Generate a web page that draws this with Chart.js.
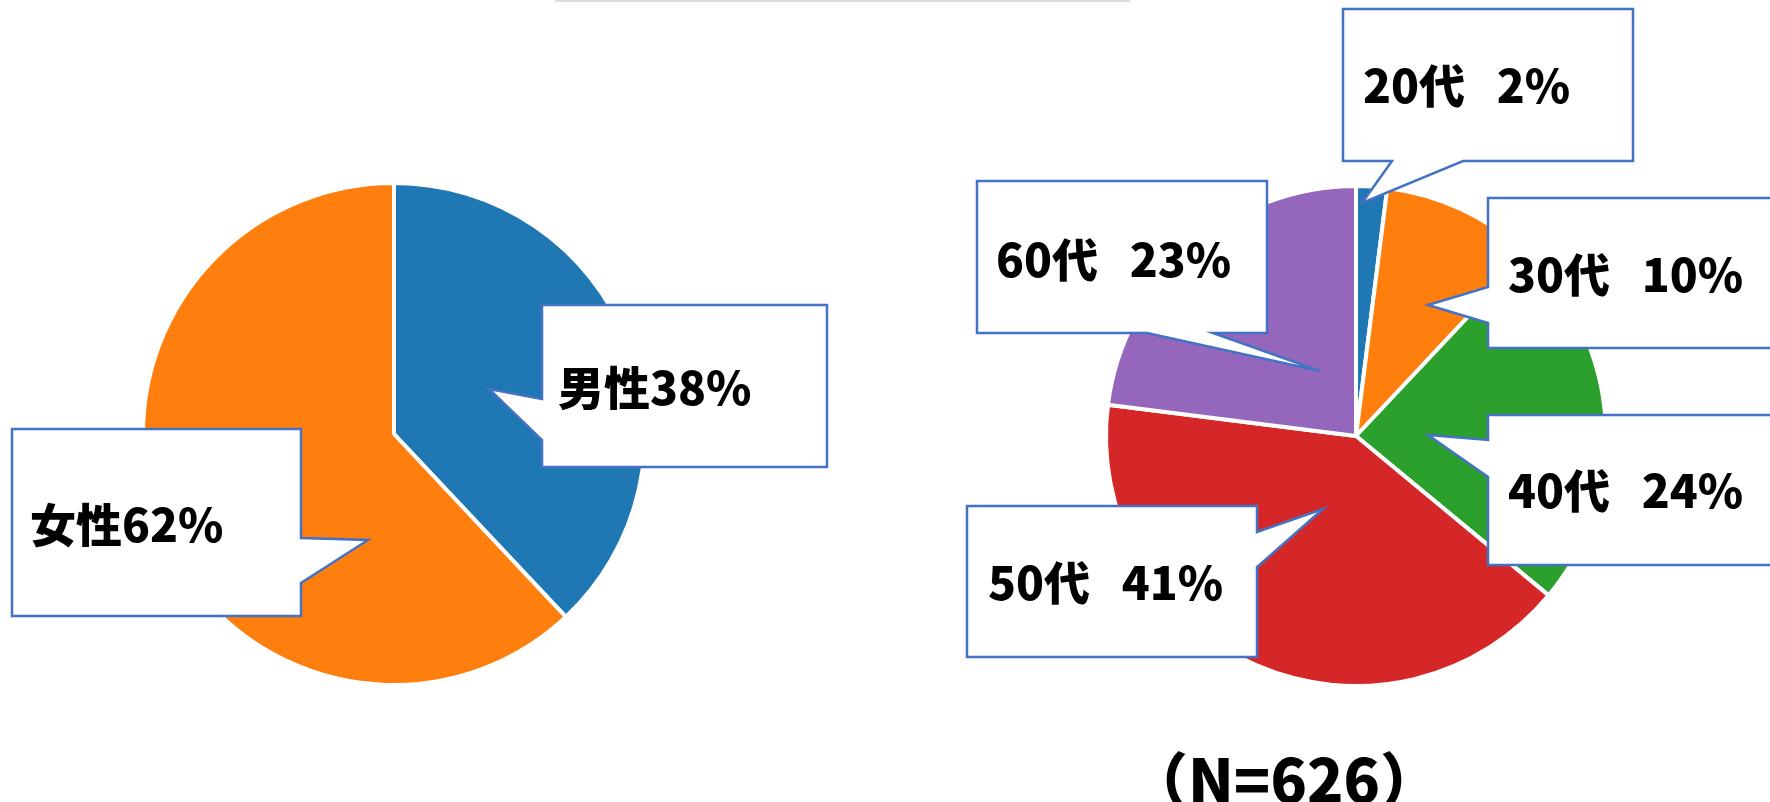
<!DOCTYPE html>
<html lang="ja">
<head>
<meta charset="utf-8">
<title>性別・年代</title>
<script src="https://cdn.jsdelivr.net/npm/chart.js@4/dist/chart.umd.min.js"></script>
<style>
  body { margin: 0; background: #fff; width: 1770px; height: 802px; overflow: hidden; position: relative; }
  canvas { position: absolute; left: 0; top: 0; }
  .topline { position: absolute; left: 555px; top: 0; width: 575px; height: 2px; background: #dcdcdc; }
</style>
</head>
<body>
<div class="topline"></div>
<canvas id="genderChart" width="1770" height="802"></canvas>
<canvas id="ageChart" width="1770" height="802"></canvas>
<script>
const genderLabels = ["男性", "女性"];
const genderValues = [38, 62];
const genderColors = ["#1f77b4", "#ff7f0e"];

const ageLabels = ["20代", "30代", "40代", "50代", "60代"];
const ageValues = [2, 10, 24, 41, 23];
const ageColors = ["#1f77b4", "#ff7f0e", "#2ca02c", "#d62728", "#9467bd"];

const sampleNote = "（N=626）";

// callout boxes, page pixels: box [x1,y1,x2,y2], pointer side, pointer base a..b, tip, text start
const genderCallouts = [
  { box: [542, 305, 827, 467], side: "left", a: 399, b: 440, tip: [489, 389], text: [558, 405] },
  { box: [12, 429, 301, 616], side: "right", a: 538, b: 583, tip: [368, 540], text: [30, 542] }
];
const ageCallouts = [
  { box: [1343, 9, 1633, 161], side: "bottom", a: 1392, b: 1463, tip: [1362, 203], text: [1363, 103] },
  { box: [1488, 198, 1790, 348], side: "left", a: 287, b: 323, tip: [1428, 305], text: [1508, 292] },
  { box: [1488, 415, 1790, 565], side: "left", a: 440, b: 477, tip: [1428, 435], text: [1508, 508] },
  { box: [967, 506, 1257, 657], side: "right", a: 532, b: 567, tip: [1323, 509], text: [988, 600] },
  { box: [977, 181, 1267, 333], side: "bottom", a: 1147, b: 1213, tip: [1320, 371], text: [996, 277] }
];

function calloutPath(ctx, c) {
  const [x1, y1, x2, y2] = c.box;
  ctx.beginPath();
  ctx.moveTo(x1, y1);
  ctx.lineTo(x2, y1);
  if (c.side === "right") {
    ctx.lineTo(x2, c.a);
    ctx.lineTo(c.tip[0], c.tip[1]);
    ctx.lineTo(x2, c.b);
  }
  ctx.lineTo(x2, y2);
  if (c.side === "bottom") {
    ctx.lineTo(c.b, y2);
    ctx.lineTo(c.tip[0], c.tip[1]);
    ctx.lineTo(c.a, y2);
  }
  ctx.lineTo(x1, y2);
  if (c.side === "left") {
    ctx.lineTo(x1, c.b);
    ctx.lineTo(c.tip[0], c.tip[1]);
    ctx.lineTo(x1, c.a);
  }
  ctx.closePath();
}

const calloutPlugin = {
  id: "callouts",
  afterDraw(chart, args, opts) {
    const ctx = chart.ctx;
    const labels = chart.data.labels;
    const values = chart.data.datasets[0].data;
    opts.items.forEach((c, i) => {
      ctx.save();
      calloutPath(ctx, c);
      ctx.fillStyle = "#ffffff";
      ctx.fill();
      ctx.lineWidth = 2.5;
      ctx.lineJoin = "miter";
      ctx.strokeStyle = "#4472c4";
      ctx.stroke();
      ctx.fillStyle = "#000000";
      ctx.font = "900 46px 'Noto Sans CJK JP', 'Noto Sans', sans-serif";
      ctx.textBaseline = "alphabetic";
      ctx.textAlign = "left";
      ctx.fillText(labels[i] + opts.sep + values[i] + "%", c.text[0], c.text[1]);
      ctx.restore();
    });
    if (opts.note) {
      ctx.save();
      ctx.fillStyle = "#000000";
      ctx.font = "900 60px 'Noto Sans CJK JP', sans-serif";
      ctx.textAlign = "center";
      ctx.textBaseline = "alphabetic";
      ctx.fillText(opts.note, 1284, 803);
      ctx.restore();
    }
  }
};

function makePie(id, labels, values, colors, padding, callouts, sep, note) {
  return new Chart(document.getElementById(id), {
    type: "pie",
    data: {
      labels: labels,
      datasets: [{
        data: values,
        backgroundColor: colors,
        borderColor: "#ffffff",
        borderWidth: 4
      }]
    },
    options: {
      responsive: false,
      animation: false,
      devicePixelRatio: 1,
      layout: { padding: padding },
      plugins: {
        legend: { display: false },
        tooltip: { enabled: false },
        callouts: { items: callouts, sep: sep, note: note }
      }
    },
    plugins: [calloutPlugin]
  });
}

makePie("genderChart", genderLabels, genderValues, genderColors,
  { left: 141, top: 181, right: 1123, bottom: 115 }, genderCallouts, "", null);
makePie("ageChart", ageLabels, ageValues, ageColors,
  { left: 1104, top: 184, right: 162, bottom: 114 }, ageCallouts, "   ", sampleNote);
</script>
</body>
</html>
